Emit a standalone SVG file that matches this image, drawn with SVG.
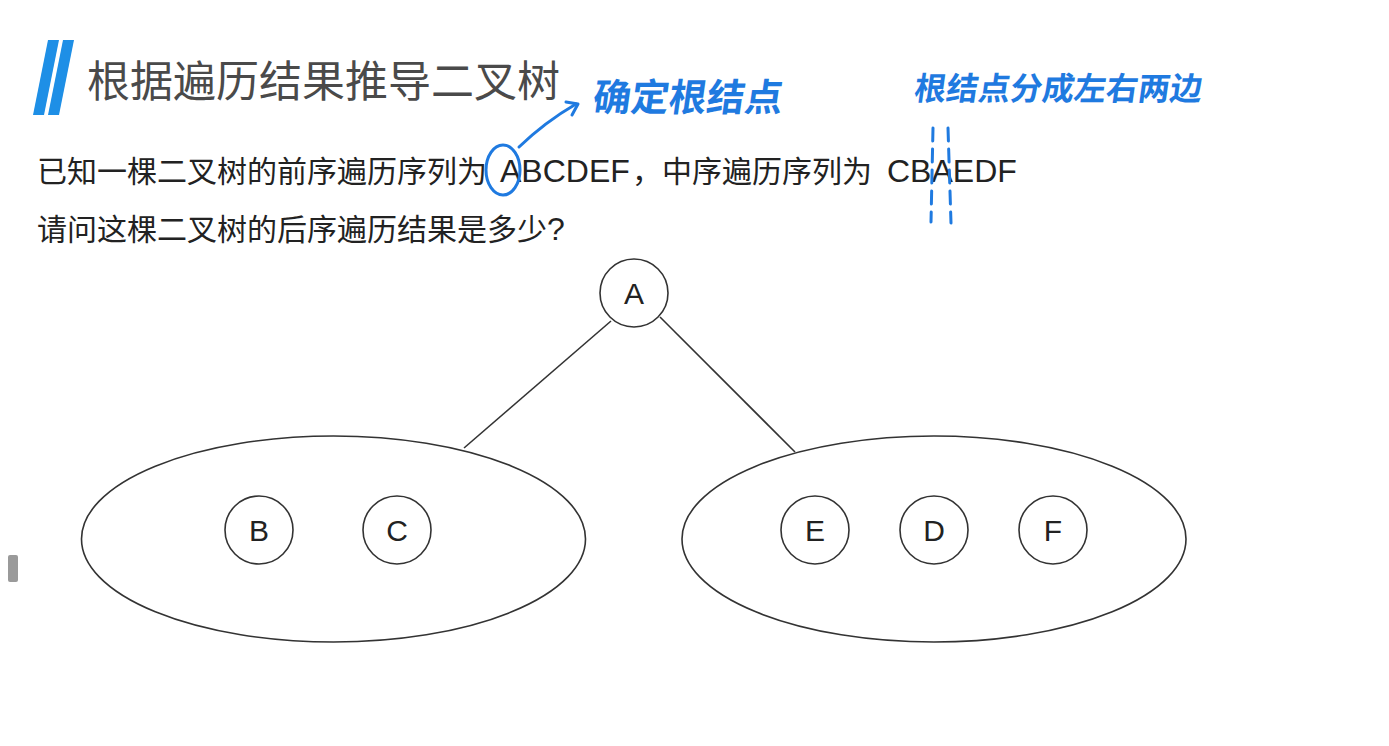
<svg xmlns="http://www.w3.org/2000/svg" width="1389" height="746" viewBox="0 0 1389 746">
<style>
.bg{fill:#ffffff}
.title{font-family:"Noto Sans CJK SC","Liberation Sans",sans-serif;font-size:43px;fill:#4a4a4a}
.body{font-family:"Noto Sans CJK SC","Liberation Sans",sans-serif;font-size:30px;fill:#222}
.lat{font-family:"Liberation Sans","Noto Sans CJK SC",sans-serif;font-size:32px;fill:#222}
.node circle,.node ellipse{fill:#fff;stroke:#333;stroke-width:1.6}
.lbl{font-family:"Liberation Sans",sans-serif;font-size:30px;fill:#222;text-anchor:middle}
.edge{stroke:#333;stroke-width:1.6;fill:none}
.ink{stroke:#1f7ae0;stroke-width:3;fill:none;stroke-linecap:round;stroke-linejoin:round}
.hand{font-family:"Noto Sans CJK SC",sans-serif;font-weight:700;fill:#1f7ae0}
</style>
<rect class="bg" width="1389" height="746"/>
<g id="title-bar">
<polygon points="48,40 59,40 44,115 33,115" fill="#1e8fe6"/>
<polygon points="63,40 74,40 59,115 48,115" fill="#1e8fe6"/>
</g>
<text class="title" x="87" y="97">根据遍历结果推导二叉树</text>
<text class="body" y="182"><tspan x="37">已知一棵二叉树的前序遍历序列为</tspan><tspan class="lat" x="500">ABCDEF</tspan><tspan x="632">，中序遍历序列为</tspan><tspan class="lat" x="887">CBAEDF</tspan></text>
<text class="body" x="37" y="240">请问这棵二叉树的后序遍历结果是多少<tspan class="lat" font-size="30">?</tspan></text>
<g id="connectors">
<line class="edge" x1="611" y1="321" x2="464" y2="448"/>
<line class="edge" x1="660" y1="317" x2="795" y2="452"/>
</g>
<g id="node-left-subtree" class="node"><ellipse cx="333.5" cy="539" rx="252" ry="103"/></g>
<g id="node-right-subtree" class="node"><ellipse cx="934" cy="539" rx="252" ry="103"/></g>
<g id="node-A" class="node"><circle cx="634" cy="293" r="34"/><text class="lbl" x="634" y="304">A</text></g>
<g id="node-B" class="node"><circle cx="259" cy="530" r="34"/><text class="lbl" x="259" y="541">B</text></g>
<g id="node-C" class="node"><circle cx="397" cy="530" r="34"/><text class="lbl" x="397" y="541">C</text></g>
<g id="node-E" class="node"><circle cx="815" cy="530" r="34"/><text class="lbl" x="815" y="541">E</text></g>
<g id="node-D" class="node"><circle cx="934" cy="530" r="34"/><text class="lbl" x="934" y="541">D</text></g>
<g id="node-F" class="node"><circle cx="1053" cy="530" r="34"/><text class="lbl" x="1053" y="541">F</text></g>
<g id="annotations">
<ellipse class="ink" cx="503" cy="170" rx="17" ry="25"/>
<path class="ink" d="M519,147 Q545,122 576,104"/>
<path class="ink" d="M566,102 L578,104 L572,115"/>
<text class="hand" x="592" y="111" font-size="38" transform="skewX(-8) translate(15,0)">确定根结点</text>
<text class="hand" x="914" y="100" font-size="32" transform="skewX(-8) translate(13,0)">根结点分成左右两边</text>
<line class="ink" x1="933" y1="128" x2="931" y2="222" stroke-dasharray="13,8"/>
<line class="ink" x1="948" y1="128" x2="951" y2="223" stroke-dasharray="13,8"/>
</g>
<rect x="8" y="555" width="10" height="27" rx="2" fill="#9a9a9a"/>
</svg>
